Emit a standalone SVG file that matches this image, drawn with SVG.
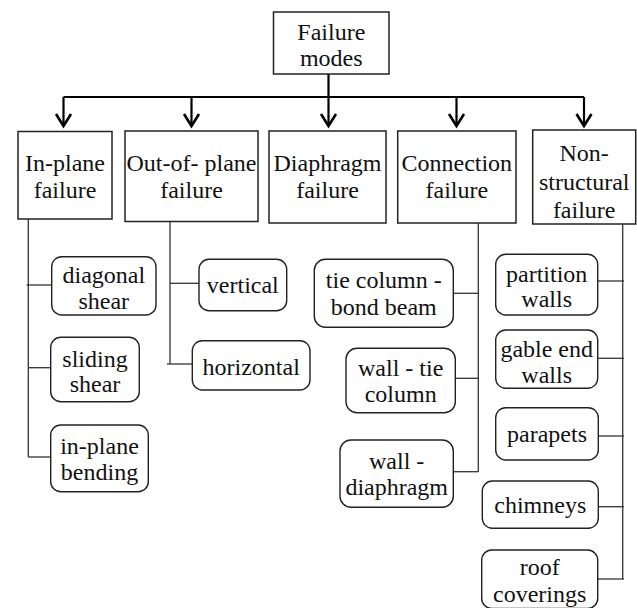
<svg xmlns="http://www.w3.org/2000/svg" width="637" height="608" viewBox="0 0 637 608">
  <style>
    text { font-family: "Liberation Serif", "DejaVu Serif", "Times New Roman", Times, serif; font-size: 24px; fill: #111; text-anchor: middle; }
    .box { fill: #fff; stroke: #222; stroke-width: 1.5; }
    .sub { fill: #fff; stroke: #222; stroke-width: 1.4; }
    .bus { fill: none; stroke: #000; stroke-width: 2.2; }
    .arrow { fill: none; stroke: #000; stroke-width: 2.2; marker-end: url(#vhead); }
    .link { fill: none; stroke: #333; stroke-width: 1.3; }
  </style>
  <defs>
    <marker id="vhead" markerUnits="userSpaceOnUse" orient="auto" refX="0" refY="0" markerWidth="20" markerHeight="20" overflow="visible">
      <path d="M-12,-7.5 L0,0 L-12,7.5" fill="none" stroke="#000" stroke-width="2.6" stroke-linejoin="miter"/>
    </marker>
  </defs>

  <!-- connectors -->
  <g id="connectors">
    <line class="bus" x1="328.5" y1="74" x2="328.5" y2="97"/>
    <line class="bus" x1="63.5" y1="97" x2="584" y2="97"/>
    <line class="arrow" x1="63.5" y1="97" x2="63.5" y2="126"/>
    <line class="arrow" x1="191.5" y1="97" x2="191.5" y2="126"/>
    <line class="arrow" x1="328.5" y1="97" x2="328.5" y2="126"/>
    <line class="arrow" x1="456.5" y1="97" x2="456.5" y2="126"/>
    <line class="arrow" x1="584" y1="97" x2="584" y2="126"/>

    <!-- in-plane branch -->
    <line class="link" x1="28.3" y1="219" x2="28.3" y2="457"/>
    <line class="link" x1="26.5" y1="285" x2="51.7" y2="285"/>
    <line class="link" x1="28.3" y1="367.7" x2="50.7" y2="367.7"/>
    <line class="link" x1="28.3" y1="457" x2="50.7" y2="457"/>

    <!-- out-of-plane branch -->
    <line class="link" x1="170" y1="221" x2="170" y2="364"/>
    <line class="link" x1="170" y1="283.3" x2="199" y2="283.3"/>
    <line class="link" x1="167" y1="364" x2="192.3" y2="364"/>

    <!-- connection branch -->
    <line class="link" x1="478.3" y1="223" x2="478.3" y2="471.7"/>
    <line class="link" x1="453.3" y1="293.3" x2="478.3" y2="293.3"/>
    <line class="link" x1="455.3" y1="378.3" x2="478.3" y2="378.3"/>
    <line class="link" x1="453.3" y1="471.7" x2="478.3" y2="471.7"/>

    <!-- non-structural branch -->
    <line class="link" x1="622.7" y1="224" x2="622.7" y2="579"/>
    <line class="link" x1="597.7" y1="281" x2="624" y2="281"/>
    <line class="link" x1="597.7" y1="358.3" x2="624" y2="358.3"/>
    <line class="link" x1="598.3" y1="436" x2="624" y2="436"/>
    <line class="link" x1="598.3" y1="506.7" x2="624" y2="506.7"/>
    <line class="link" x1="597.7" y1="579" x2="624" y2="579"/>
  </g>

  <!-- root -->
  <g id="failure-modes">
    <rect class="box" x="273.5" y="12" width="115.5" height="62"/>
    <text x="331.3" y="39.5">Failure</text>
    <text x="331.3" y="66">modes</text>
  </g>

  <!-- first level -->
  <g id="in-plane">
    <rect class="box" x="18" y="131.5" width="94" height="87.5"/>
    <text x="65" y="171">In-plane</text>
    <text x="65" y="198.3">failure</text>
  </g>
  <g id="out-of-plane">
    <rect class="box" x="125" y="131" width="133" height="90.5"/>
    <text x="191.5" y="171">Out-of- plane</text>
    <text x="191.5" y="198.3">failure</text>
  </g>
  <g id="diaphragm">
    <rect class="box" x="269" y="131" width="117" height="92"/>
    <text x="327.5" y="171">Diaphragm</text>
    <text x="327.5" y="198.3">failure</text>
  </g>
  <g id="connection">
    <rect class="box" x="397.7" y="131" width="118.3" height="92"/>
    <text x="456.8" y="171">Connection</text>
    <text x="456.8" y="198.3">failure</text>
  </g>
  <g id="non-structural">
    <rect class="box" x="532.7" y="130" width="103" height="94"/>
    <text x="584.2" y="161">Non-</text>
    <text x="584.2" y="189.5">structural</text>
    <text x="584.2" y="218">failure</text>
  </g>

  <!-- in-plane modes -->
  <g id="diagonal-shear">
    <rect class="sub" x="51.7" y="256.7" width="104.3" height="58.3" rx="10"/>
    <text x="103.8" y="283.3">diagonal</text>
    <text x="103.8" y="309">shear</text>
  </g>
  <g id="sliding-shear">
    <rect class="sub" x="50.7" y="337.3" width="88.6" height="64.4" rx="10"/>
    <text x="95" y="366.7">sliding</text>
    <text x="95" y="391.7">shear</text>
  </g>
  <g id="in-plane-bending">
    <rect class="sub" x="50.7" y="425" width="97.6" height="66.7" rx="10"/>
    <text x="99.5" y="453.5">in-plane</text>
    <text x="99.5" y="480">bending</text>
  </g>

  <!-- out-of-plane modes -->
  <g id="vertical">
    <rect class="sub" x="199" y="259.3" width="87.7" height="51.4" rx="10"/>
    <text x="242.8" y="293.3">vertical</text>
  </g>
  <g id="horizontal">
    <rect class="sub" x="192.3" y="340.7" width="117.7" height="49.3" rx="10"/>
    <text x="251.2" y="374.5">horizontal</text>
  </g>

  <!-- connection modes -->
  <g id="tie-column-bond-beam">
    <rect class="sub" x="314.3" y="259.3" width="139" height="68" rx="11"/>
    <text x="383.8" y="288.3">tie column -</text>
    <text x="383.8" y="315">bond beam</text>
  </g>
  <g id="wall-tie-column">
    <rect class="sub" x="346" y="348.3" width="109.3" height="64.4" rx="11"/>
    <text x="400.7" y="375.5">wall - tie</text>
    <text x="400.7" y="402">column</text>
  </g>
  <g id="wall-diaphragm">
    <rect class="sub" x="340" y="440" width="113.3" height="67.3" rx="11"/>
    <text x="396.7" y="468.5">wall -</text>
    <text x="396.7" y="495">diaphragm</text>
  </g>

  <!-- non-structural elements -->
  <g id="partition-walls">
    <rect class="sub" x="495.7" y="254.3" width="102" height="60.7" rx="10"/>
    <text x="546.7" y="281.7">partition</text>
    <text x="546.7" y="307.3">walls</text>
  </g>
  <g id="gable-end-walls">
    <rect class="sub" x="495.7" y="330" width="102" height="58.3" rx="10"/>
    <text x="546.7" y="356.7">gable end</text>
    <text x="546.7" y="383.3">walls</text>
  </g>
  <g id="parapets">
    <rect class="sub" x="495.7" y="407.7" width="102.6" height="52.3" rx="10"/>
    <text x="547" y="442">parapets</text>
  </g>
  <g id="chimneys">
    <rect class="sub" x="482.3" y="481" width="116" height="47.3" rx="10"/>
    <text x="540.3" y="512.7">chimneys</text>
  </g>
  <g id="roof-coverings">
    <rect class="sub" x="481.7" y="550" width="116" height="58.5" rx="10"/>
    <text x="539.7" y="575">roof</text>
    <text x="539.7" y="601.7">coverings</text>
  </g>
</svg>
